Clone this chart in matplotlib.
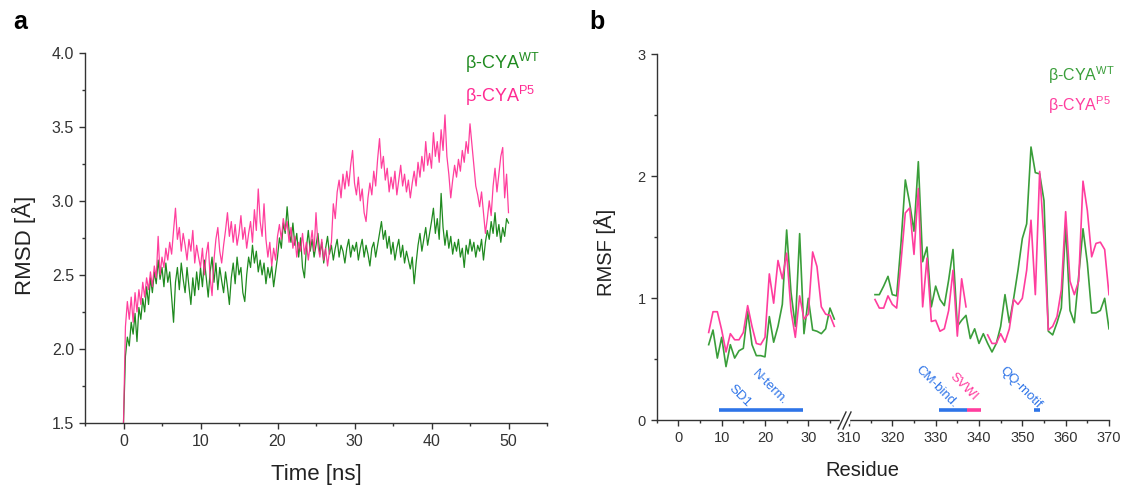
import matplotlib
matplotlib.use('Agg')
import matplotlib.pyplot as plt
from matplotlib.ticker import MultipleLocator
from matplotlib.lines import Line2D
from matplotlib.patches import Rectangle
import numpy as np

plt.rcParams['font.family'] = ['Liberation Sans', 'DejaVu Sans']
plt.rcParams['mathtext.fontset'] = 'custom'
plt.rcParams['mathtext.rm'] = 'Liberation Sans'

# ---- panel a: RMSD vs time (0.25 ns steps) ----
time_ns = np.arange(0, 50.001, 0.25)

rmsd_wt = [
    1.50, 1.95, 2.08, 2.02, 2.18, 2.10, 2.24, 2.05, 2.28, 2.20,
    2.34, 2.25, 2.42, 2.30, 2.48, 2.38, 2.52, 2.44, 2.60, 2.47,
    2.55, 2.42, 2.58, 2.45, 2.52, 2.35, 2.18, 2.45, 2.55, 2.40,
    2.58, 2.47, 2.38, 2.55, 2.42, 2.30, 2.48, 2.36, 2.52, 2.40,
    2.55, 2.42, 2.60, 2.48, 2.35, 2.52, 2.62, 2.45, 2.58, 2.40,
    2.55, 2.46, 2.38, 2.52, 2.42, 2.30, 2.48, 2.58, 2.44, 2.62,
    2.50, 2.55, 2.38, 2.32, 2.50, 2.62, 2.55, 2.70, 2.58, 2.66,
    2.52, 2.60, 2.50, 2.58, 2.44, 2.55, 2.48, 2.56, 2.42, 2.52,
    2.62, 2.75, 2.68, 2.85, 2.78, 2.96, 2.80, 2.72, 2.85, 2.70,
    2.78, 2.62, 2.75, 2.55, 2.48, 2.68, 2.80, 2.66, 2.74, 2.62,
    2.70, 2.78, 2.64, 2.72, 2.58, 2.68, 2.76, 2.64, 2.70, 2.60,
    2.68, 2.74, 2.62, 2.70, 2.66, 2.58, 2.68, 2.74, 2.62, 2.70,
    2.66, 2.72, 2.60, 2.68, 2.74, 2.62, 2.70, 2.64, 2.56, 2.68,
    2.72, 2.62, 2.70, 2.78, 2.86, 2.74, 2.80, 2.68, 2.76, 2.64,
    2.72, 2.60, 2.68, 2.74, 2.62, 2.70, 2.58, 2.66, 2.60, 2.54,
    2.62, 2.44, 2.58, 2.70, 2.78, 2.66, 2.74, 2.82, 2.70, 2.78,
    2.86, 2.95, 2.78, 2.88, 2.74, 3.05, 2.82, 2.70, 2.80, 2.68,
    2.76, 2.64, 2.72, 2.66, 2.74, 2.62, 2.68, 2.55, 2.70, 2.64,
    2.74, 2.66, 2.72, 2.62, 2.70, 2.66, 2.74, 2.60, 2.72, 2.80,
    2.74, 2.86, 2.78, 2.92, 2.76, 2.84, 2.72, 2.82, 2.76, 2.88,
    2.85,
]

rmsd_p5 = [
    1.50, 2.15, 2.32, 2.20, 2.35, 2.18, 2.38, 2.25, 2.40, 2.30,
    2.45, 2.35, 2.48, 2.40, 2.52, 2.42, 2.56, 2.48, 2.76, 2.50,
    2.62, 2.55, 2.68, 2.60, 2.72, 2.64, 2.80, 2.95, 2.74, 2.82,
    2.66, 2.78, 2.70, 2.60, 2.74, 2.66, 2.80, 2.58, 2.70, 2.62,
    2.55, 2.68, 2.50, 2.64, 2.72, 2.48, 2.36, 2.60, 2.74, 2.82,
    2.66, 2.58, 2.70, 2.80, 2.92, 2.76, 2.86, 2.72, 2.84, 2.70,
    2.78, 2.90, 2.74, 2.82, 2.68, 2.78, 2.86, 2.72, 2.94, 2.80,
    3.08, 2.86, 2.76, 2.98, 2.74, 2.62, 2.72, 2.56, 2.68, 2.60,
    2.76, 2.84, 2.74, 2.88, 2.80, 2.86, 2.72, 2.82, 2.68, 2.76,
    2.62, 2.72, 2.66, 2.78, 2.64, 2.72, 2.60, 2.70, 2.80, 2.66,
    2.92, 2.70, 2.62, 2.74, 2.60, 2.68, 2.56, 2.66, 2.72, 2.98,
    2.88, 3.06, 3.14, 3.02, 3.18, 3.08, 3.20, 3.10, 3.24, 3.34,
    3.12, 3.04, 3.16, 3.00, 3.08, 2.92, 2.86, 3.02, 3.12, 3.04,
    3.20, 3.10, 3.28, 3.42, 3.22, 3.30, 3.14, 3.22, 3.06, 3.16,
    3.08, 3.20, 3.04, 3.14, 3.24, 3.10, 3.18, 3.06, 3.14, 3.02,
    3.12, 3.20, 3.10, 3.26, 3.16, 3.30, 3.20, 3.40, 3.24, 3.32,
    3.22, 3.46, 3.30, 3.40, 3.26, 3.48, 3.34, 3.58, 3.30, 3.18,
    3.02, 3.14, 3.24, 3.16, 3.28, 3.20, 3.34, 3.26, 3.40, 3.32,
    3.52, 3.38, 3.24, 3.10, 3.04, 2.96, 3.06, 2.92, 2.78, 2.88,
    3.00, 2.90, 3.10, 3.22, 3.06, 3.18, 3.30, 3.36, 3.02, 3.18,
    2.92,
]

# ---- panel b: RMSF per residue ----
res_n = list(range(7, 37))
rmsf_wt_n = [0.62, 0.74, 0.51, 0.68, 0.44, 0.62, 0.51, 0.57, 0.59, 0.89,
             0.62, 0.53, 0.53, 0.52, 0.85, 0.64, 0.77, 0.95, 1.56, 1.05,
             0.77, 1.53, 0.71, 1.00, 0.74, 0.73, 0.71, 0.75, 0.92, 0.83]
rmsf_p5_n = [0.72, 0.89, 0.89, 0.74, 0.56, 0.71, 0.66, 0.66, 0.72, 0.94,
             0.77, 0.63, 0.62, 0.68, 1.20, 0.96, 1.31, 1.16, 1.37, 0.90,
             0.68, 1.02, 0.83, 0.87, 1.38, 1.26, 0.93, 0.87, 0.86, 0.77]

res_c = list(range(316, 371))
rmsf_wt_c = [1.03, 1.03, 1.10, 1.18, 1.03, 1.02, 1.45, 1.97, 1.78, 1.55,
             2.12, 1.30, 1.42, 0.93, 1.10, 0.99, 0.94, 1.15, 1.40, 0.77,
             0.82, 0.86, 0.67, 0.75, 0.63, 0.71, 0.63, 0.56, 0.63, 0.77,
             1.03, 0.80, 1.00, 1.23, 1.49, 1.61, 2.24, 2.03, 2.02, 1.80,
             0.73, 0.70, 0.80, 0.92, 1.60, 0.90, 0.80, 1.18, 1.57, 1.29,
             0.88, 0.88, 0.90, 1.00, 0.75]
res_c1 = list(range(316, 338))
rmsf_p5_c1 = [0.99, 0.92, 0.92, 1.02, 0.95, 0.92, 1.30, 1.70, 1.74, 1.36,
              1.90, 0.93, 1.33, 0.81, 0.82, 0.73, 0.75, 0.90, 1.23, 0.69,
              1.16, 0.93]
res_c2 = list(range(342, 371))
rmsf_p5_c2 = [0.70, 0.63, 0.63, 0.71, 0.64, 0.75, 0.99, 0.95, 1.00, 1.23,
              1.64, 1.03, 2.04, 1.48, 0.74, 0.77, 0.85, 1.07, 1.71, 1.14,
              1.03, 1.14, 1.96, 1.72, 1.34, 1.45, 1.46, 1.40, 1.03]

# domain bars: (start, end, colour key)
domains = [(9.4, 28.8, 'blue'), (330.8, 337.3, 'blue'),
           (337.3, 340.5, 'pink'), (352.6, 354.0, 'blue')]
domain_labels = [('SD1', 14.2, 0.20, 'blue'), ('N-term.', 21.0, 0.27, 'blue'),
                 ('CM-bind.', 330.2, 0.27, 'blue'), ('SVWI', 336.5, 0.27, 'pink'),
                 ('QQ-motif', 349.6, 0.27, 'blue')]

GREEN_A = '#1f8a1f'
PINK_A = '#ff2a92'
GREEN_B = '#3a9e3a'
PINK_B = '#ff3d9e'
BLUE = '#2e74e8'
AX = '#333333'

W, H = 1127, 490
fig = plt.figure(figsize=(W / 100, H / 100), dpi=100)


def rect(l, r, t, b):
    return [l / W, (H - b) / H, (r - l) / W, (b - t) / H]


def style(ax, size):
    for s in ['top', 'right']:
        ax.spines[s].set_visible(False)
    for s in ['left', 'bottom']:
        ax.spines[s].set_color(AX)
        ax.spines[s].set_linewidth(1.0)
    ax.tick_params(which='both', direction='out', colors=AX, labelsize=size, width=1.0)
    ax.tick_params(which='major', length=4.5)
    ax.tick_params(which='minor', length=2.5)


# panel a
ax = fig.add_axes(rect(85, 547, 52.7, 423))
ax.plot(time_ns, rmsd_wt, color=GREEN_A, lw=0.9)
ax.plot(time_ns, rmsd_p5, color=PINK_A, lw=0.9, alpha=0.9)
ax.set_xlim(-5, 55)
ax.set_ylim(1.5, 4.0)
ax.xaxis.set_major_locator(MultipleLocator(10))
ax.xaxis.set_minor_locator(MultipleLocator(5))
ax.yaxis.set_major_locator(MultipleLocator(0.5))
ax.yaxis.set_minor_locator(MultipleLocator(0.25))
ax.yaxis.set_major_formatter(matplotlib.ticker.FormatStrFormatter('%.1f'))
style(ax, 11.5)
ax.set_xlabel('Time [ns]', fontsize=16, color='#222222')
ax.xaxis.set_label_coords(0.5, -0.14)
ax.xaxis.label.set_va('center')
ax.set_ylabel('RMSD [Å]', fontsize=16, color='#222222')
ax.yaxis.set_label_coords(-0.132, 0.48)
ax.yaxis.label.set_va('center')
fig.text(465 / W, 1 - 63 / H, r'β-CYA$^{\mathrm{WT}}$', color=GREEN_A, fontsize=13,
         va='center', ha='left')
fig.text(465 / W, 1 - 96 / H, r'β-CYA$^{\mathrm{P5}}$', color=PINK_A, fontsize=13,
         va='center', ha='left')
fig.text(13 / W, 1 - 22 / H, 'a', fontsize=18, fontweight='bold', va='center', ha='left')

# panel b, broken x axis
b1 = fig.add_axes(rect(656.7, 845, 54.3, 420.3))
b2 = fig.add_axes(rect(845, 1109, 54.3, 420.3))
b1.plot(res_n, rmsf_wt_n, color=GREEN_B, lw=1.2)
b1.plot(res_n, rmsf_p5_n, color=PINK_B, lw=1.2)
b2.plot(res_c, rmsf_wt_c, color=GREEN_B, lw=1.2)
b2.plot(res_c1, rmsf_p5_c1, color=PINK_B, lw=1.2)
b2.plot(res_c2, rmsf_p5_c2, color=PINK_B, lw=1.2)

cmap = {'blue': BLUE, 'pink': PINK_B}
for x0, x1, c in domains:
    a = b1 if x1 < 100 else b2
    a.plot([x0, x1], [0.082, 0.082], color=cmap[c], lw=2.6, solid_capstyle='butt')
for txt, x, y, c in domain_labels:
    a = b1 if x < 100 else b2
    a.text(x, y, txt, color=cmap[c], fontsize=9.5, rotation=-45,
           ha='center', va='center', rotation_mode='anchor')
for a in (b1, b2):
    a.set_ylim(0, 3)
    a.set_facecolor('none')

b1.set_xlim(-5, 38.47)
b2.set_xlim(309.08, 370)
b1.xaxis.set_major_locator(MultipleLocator(10))
b1.xaxis.set_minor_locator(MultipleLocator(5))
b2.xaxis.set_major_locator(MultipleLocator(10))
b2.xaxis.set_minor_locator(MultipleLocator(5))
b1.yaxis.set_major_locator(MultipleLocator(1))
b1.yaxis.set_minor_locator(MultipleLocator(0.5))
style(b1, 10.5)
style(b2, 10.5)
b2.spines['left'].set_visible(False)
b2.tick_params(axis='y', which='both', left=False, labelleft=False)
b1.set_ylabel('RMSF [Å]', fontsize=14.5, color='#222222')
b1.yaxis.set_label_coords((605 - 656.7) / 188.3, 0.46)
b1.yaxis.label.set_va('center')
fig.text(862 / W, 1 - 470 / H, 'Residue', fontsize=14.5, color='#222222',
         ha='center', va='center')
fig.text(1047.5 / W, 1 - 75 / H, r'β-CYA$^{\mathrm{WT}}$', color=GREEN_B, fontsize=11.5,
         va='center', ha='left')
fig.text(1047.5 / W, 1 - 105 / H, r'β-CYA$^{\mathrm{P5}}$', color=PINK_B, fontsize=11.5,
         va='center', ha='left')
fig.text(589 / W, 1 - 22 / H, 'b', fontsize=18, fontweight='bold', va='center', ha='left')

# break mark on the residue axis
fig.patches.append(Rectangle((840 / W, 1 - 423 / H), 9 / W, 6 / H,
                             transform=fig.transFigure, color='white', zorder=5))
for dx in (0, 5):
    fig.add_artist(Line2D([(838 + dx) / W, (846 + dx) / W], [1 - 429 / H, 1 - 412 / H],
                          transform=fig.transFigure, color=AX, lw=1.0, zorder=6))

plt.savefig('out.png', dpi=100)
